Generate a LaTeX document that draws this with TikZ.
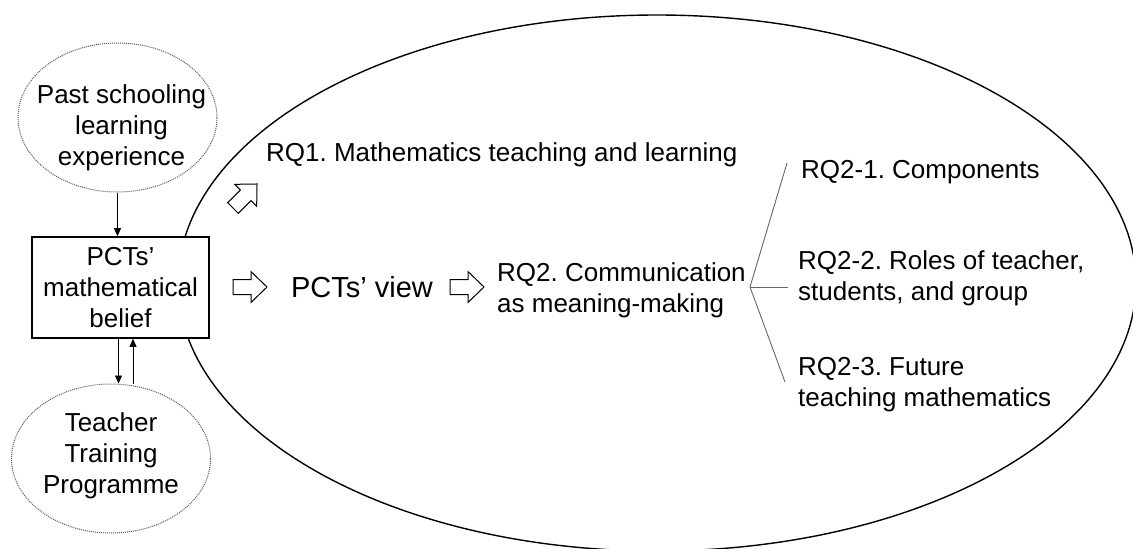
\documentclass[tikz,border=0pt]{standalone}
\usepackage{fontspec}
\setmainfont{Liberation Sans}
\frenchspacing
\usetikzlibrary{shapes.geometric,arrows.meta}

\tikzset{
	dotcircle/.style = {ellipse, draw = black!65, densely dotted, line width = 1pt, minimum width = 199pt, minimum height = 149pt, inner sep = 0pt},
	beliefbox/.style = {rectangle, draw, line width = 1.6pt, fill = white, minimum width = 177pt, minimum height = 101pt, inner sep = 0pt, align = center},
	txt/.style = {inner sep = 0pt, anchor = west, align = left},
	branch/.style = {draw = black!60, line width = .9pt},
	hollow/.pic = {
		\draw[line width = 1pt, fill = white] (-17,-7.5) -- (1,-7.5) -- (1,-15.5) -- (17,0) -- (1,15.5) -- (1,7.5) -- (-17,7.5) -- cycle;
	}
}

\begin{document}
\begin{tikzpicture}[x = 1pt, y = -1pt, >={Triangle[length=8pt, width=7pt]},
	every node/.style = {font = \fontsize{26}{31}\selectfont}]
	\useasboundingbox (0,0) rectangle (1133,549);
	% the study frame
	\draw[line width = 1.4pt] (657,283) ellipse [x radius = 479pt, y radius = 268pt];
	% sources of belief
	\node[dotcircle, label = {[align = center, xshift = 4pt, yshift = -10pt]center:{Past schooling\\learning\\experience}}] (past) at (117.5,117.5) {};
	\node[beliefbox] (belief) at (120.5,287.5) {PCTs'\\mathematical\\belief};
	\node[dotcircle, label = {[align = center, yshift = 3pt]center:{Teacher\\Training\\Programme}}] (teacher) at (111,458.5) {};
	\draw[->, line width = .8pt] (past.south) -- (past.south |- belief.north);
	\draw[->, line width = .8pt] ([xshift = -2pt]belief.south) -- ([xshift = -2pt]belief.south |- teacher.north);
	\draw[->, line width = .8pt] ([xshift = 22pt]teacher.north) -- ([xshift = 22pt]teacher.north |- belief.south);
	% view and research questions
	\pic[rotate = 45] at (245,196) {hollow};
	\pic at (250,287) {hollow};
	\node[font = \fontsize{29}{33}\selectfont] (view) at (362,287) {PCTs' view};
	\pic at (467,287) {hollow};
	\node[txt] (rq1) at (266,155) {RQ1. Mathematics teaching and learning};
	\node[txt] (rq2) at (497,290) {RQ2. Communication\\as meaning-making};
	\node[txt] (rq21) at (801,172) {RQ2-1. Components};
	\node[txt] (rq22) at (798,278) {RQ2-2. Roles of teacher,\\students, and group};
	\node[txt] (rq23) at (798,385) {RQ2-3. Future\\teaching mathematics};
	% fork
	\coordinate (fork) at (750,287);
	\coordinate (e1) at (787,163);
	\coordinate (e2) at (788,287);
	\coordinate (e3) at (785,382);
	\draw[branch] (e1) -- (fork) -- (e3);
	\draw[branch] (fork) -- (e2);
\end{tikzpicture}
\end{document}
